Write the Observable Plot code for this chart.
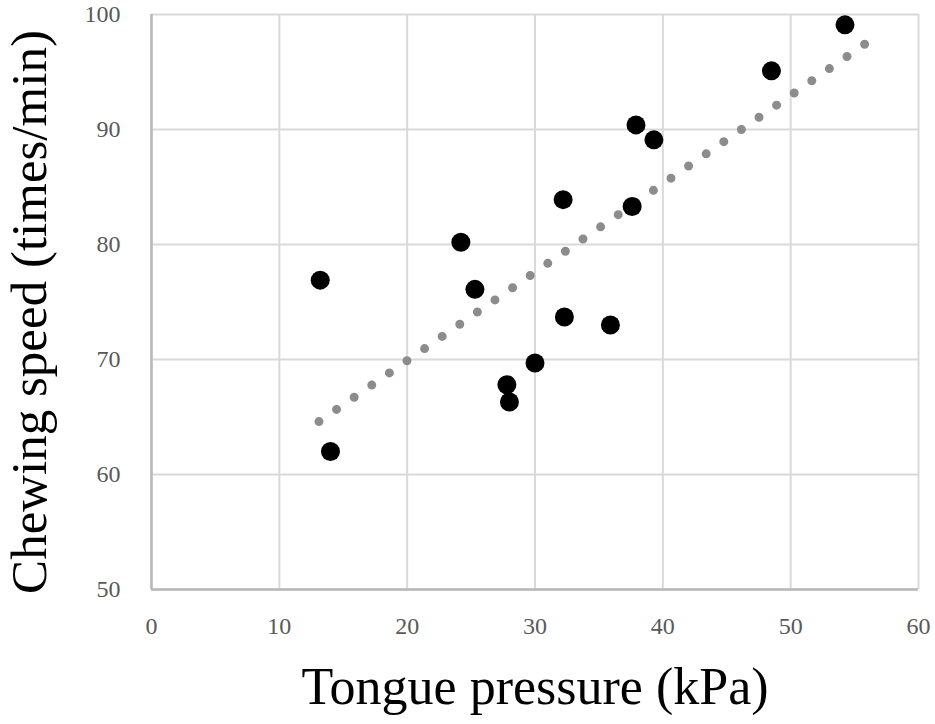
<!DOCTYPE html>
<html>
<head>
<meta charset="utf-8">
<script src="https://cdn.jsdelivr.net/npm/d3@7"></script>
<script src="https://cdn.jsdelivr.net/npm/@observablehq/plot@0.6"></script>
<style>
  html, body { margin: 0; padding: 0; background: #fff; }
</style>
</head>
<body>
<div id="chart"></div>
<script>
const tonguePressure = [13.2, 14.0, 24.2, 25.3, 27.8, 28.0, 30.0, 32.2, 32.3, 35.9, 37.6, 37.9, 39.3, 48.5, 54.25];
const chewingSpeed   = [76.9, 62.0, 80.2, 76.1, 67.8, 66.3, 69.7, 83.9, 73.7, 73.0, 83.3, 90.4, 89.1, 95.1, 99.1];
const trendX = [13.1, 55.9];
const trendY = [64.6, 97.5];
const xTicks = [0, 10, 20, 30, 40, 50, 60];
const yTicks = [50, 60, 70, 80, 90, 100];
const xTitle = "Tongue pressure (kPa)";
const yTitle = "Chewing speed (times/min)";

const points = tonguePressure.map((x, i) => ({x, y: chewingSpeed[i]}));
const trend = trendX.map((x, i) => ({x, y: trendY[i]}));

const serif = "'Liberation Serif', 'DejaVu Serif', serif";

const chart = Plot.plot({
  width: 935,
  height: 724,
  marginLeft: 151,
  marginRight: 17,
  marginTop: 14,
  marginBottom: 135,
  style: {fontFamily: serif, background: "#fff", overflow: "visible"},
  x: {domain: [0, 60]},
  y: {domain: [50, 100]},
  marks: [
    Plot.gridX(xTicks, {stroke: "#d9d9d9", strokeOpacity: 1, strokeWidth: 2}),
    Plot.gridY(yTicks, {stroke: "#d9d9d9", strokeOpacity: 1, strokeWidth: 2}),
    Plot.ruleX([0], {stroke: "#b8b8b8", strokeWidth: 2.5}),
    Plot.ruleY([50], {stroke: "#b8b8b8", strokeWidth: 2.5}),
    Plot.axisX(xTicks, {tickSize: 0, tickPadding: 27, fontSize: 24, fill: "#595959", label: null}),
    Plot.axisY(yTicks, {tickSize: 0, tickPadding: 31, fontSize: 24, fill: "#595959", label: null}),
    Plot.line(trend, {x: "x", y: "y", stroke: "#8c8c8c", strokeWidth: 9, strokeDasharray: "0,21.4", strokeLinecap: "round"}),
    Plot.dot(points, {x: "x", y: "y", r: 9.5, fill: "#000", stroke: "none"}),
    Plot.text([xTitle], {frameAnchor: "bottom", dy: 98, lineAnchor: "middle", fontSize: 52, fill: "#000", text: d => d}),
    Plot.text([yTitle], {frameAnchor: "left", textAnchor: "middle", dx: -122, dy: 10, rotate: -90, lineAnchor: "middle", fontSize: 51, fill: "#000", text: d => d})
  ]
});
document.getElementById("chart").appendChild(chart);
</script>
</body>
</html>
